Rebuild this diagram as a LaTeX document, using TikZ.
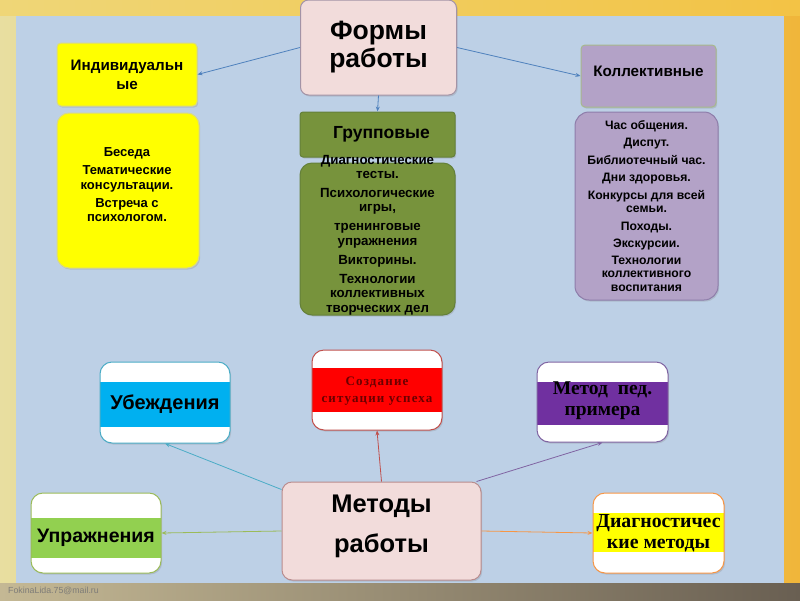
\documentclass[tikz,border=0pt]{standalone}
\usepackage{fontspec}
\setmainfont{Liberation Sans}
\newfontfamily\serifbf{Liberation Serif}
\newfontfamily\serifsp[LetterSpace=9]{Liberation Serif}
\usetikzlibrary{arrows.meta,shadows}
\definecolor{bgblue}{HTML}{BDD0E6}
\definecolor{pinkf}{HTML}{F2DCDB}
\definecolor{pinkd}{HTML}{A393A6}
\definecolor{pinkm}{HTML}{B98C8E}
\definecolor{yel}{HTML}{FFFF00}
\definecolor{yeld}{HTML}{D8D88A}
\definecolor{grn}{HTML}{77933C}
\definecolor{grnd}{HTML}{64803A}
\definecolor{purp}{HTML}{B3A2C7}
\definecolor{purpd}{HTML}{8E7DAA}
\definecolor{kold}{HTML}{A7B98C}
\definecolor{linkblue}{HTML}{4F81BD}
\definecolor{cyanband}{HTML}{00B0F0}
\definecolor{cyanbord}{HTML}{4BACC6}
\definecolor{redband}{HTML}{FF0000}
\definecolor{redbord}{HTML}{C0504D}
\definecolor{redtext}{HTML}{6B0000}
\definecolor{purpband}{HTML}{7030A0}
\definecolor{purpbord}{HTML}{8064A2}
\definecolor{grnband}{HTML}{92D050}
\definecolor{grnbord}{HTML}{9BBB59}
\definecolor{orbord}{HTML}{F79646}
\definecolor{footgray}{HTML}{7E7C78}
\definecolor{bgl}{HTML}{E8DEA0}
\definecolor{bgr}{HTML}{F0B63A}
\definecolor{bgtop}{HTML}{F6D050}
\definecolor{botl}{HTML}{C4B894}
\definecolor{botr}{HTML}{695F52}
\begin{document}
\begin{tikzpicture}[x=1pt,y=-1pt,
  box/.style={draw, line width=1pt, inner sep=0pt, align=center,
    drop shadow={shadow xshift=1.2pt, shadow yshift=-1.5pt, opacity=0.25}},
  txt/.style={inner sep=0pt, align=center},
  link/.style={line width=0.8pt, -{Stealth[length=5pt,width=4pt]}},
  band/.style n args={3}{path picture={\fill[#1, sharp corners] ([yshift=#2]path picture bounding box.west) rectangle ([yshift=#3]path picture bounding box.east);}},
]
\useasboundingbox (0,0) rectangle (800,600);
% background
\shade[left color=bgl, right color=bgr] (0,0) rectangle (800,600);
\fill[bgtop, opacity=0.5] (0,0) rectangle (800,16);
\shade[left color=botl, right color=botr] (0,583) rectangle (800,600);
\fill[bgblue] (16,16) rectangle (784,583);

% top part
\node[box, fill=pinkf, draw=pinkd, minimum width=156pt, minimum height=95pt, rounded corners=8pt,
  font=\bfseries\fontsize{26.5}{28}\selectfont] (forms) at (378.5,47.5) {Формы\\работы};
\node[box, fill=yel, draw=yeld, minimum width=140pt, minimum height=63pt, rounded corners=4pt,
  font=\bfseries\fontsize{15.2}{19}\selectfont] (ind) at (127,74.5) {Индивидуальн\\ые};
\node[box, fill=yel, draw=yeld, minimum width=142pt, minimum height=155pt, rounded corners=12pt] (indl) at (128,190.5) {};
\node[txt, font=\bfseries\fontsize{13}{14.5}\selectfont] (indt) at (127,185) {Беседа\\[3.5pt]Тематические\\консультации.\\[3.5pt]Встреча с\\психологом.};

\node[box, fill=grn, draw=grnd, minimum width=155pt, minimum height=45pt, rounded corners=3pt,
  font=\bfseries\fontsize{17.5}{20}\selectfont] (grp) at (377.5,134.5) {\hspace*{8pt}Групповые};
\node[box, fill=grn, draw=grnd, minimum width=155pt, minimum height=152pt, rounded corners=12pt] (grpl) at (377.5,239) {};
\node[txt, font=\bfseries\fontsize{13.3}{14.5}\selectfont] (grpt) at (377.5,235) {Диагностические\\тесты.\\[4pt]Психологические\\игры,\\[4.5pt]тренинговые\\упражнения\\[4.5pt]Викторины.\\[4.5pt]Технологии\\коллективных\\творческих дел};

\node[box, fill=purp, draw=kold, minimum width=135pt, minimum height=62pt, rounded corners=4pt,
  font=\bfseries\fontsize{15.2}{18}\selectfont] (kol) at (648.5,76) {\raisebox{9pt}{Коллективные}};
\node[box, fill=purp, draw=purpd, minimum width=143pt, minimum height=188pt, rounded corners=14pt] (koll) at (646.5,206) {};
\node[txt, font=\bfseries\fontsize{12.2}{13.5}\selectfont] (kolt) at (646.5,206) {Час общения.\\[4pt]Диспут.\\[4pt]Библиотечный час.\\[4pt]Дни здоровья.\\[4pt]Конкурсы для всей\\семьи.\\[4pt]Походы.\\[4pt]Экскурсии.\\[3pt]Технологии\\коллективного\\воспитания};

\draw[link, linkblue] (forms.west) -- (ind.east);
\draw[link, linkblue] (forms.south) -- (grp.north);
\draw[link, linkblue] (forms.east) -- (kol.west);

% bottom part
\node[box, fill=pinkf, draw=pinkm, minimum width=199pt, minimum height=98pt, rounded corners=10pt] (meth) at (381.5,531) {};
\node[txt, font=\bfseries\fontsize{25.5}{40}\selectfont] (metht) at (381.5,526) {Методы\\работы};

\node[box, fill=white, draw=cyanbord, minimum width=130pt, minimum height=81pt, rounded corners=12pt,
  band={cyanband}{20.5pt}{-24.5pt}] (ub) at (165,402.5) {};
\node[txt, font=\bfseries\fontsize{20}{22}\selectfont] (ubt) at (165,404.5) {Убеждения};

\node[box, fill=white, draw=redbord, minimum width=130pt, minimum height=80pt, rounded corners=12pt,
  band={redband}{22pt}{-22pt}] (sozd) at (377,390) {};
\node[txt, text=redtext, font=\serifsp\bfseries\fontsize{13}{17}\selectfont] (sozdt) at (377,391) {Создание\\ситуации успеха};

\node[box, fill=white, draw=purpbord, minimum width=131pt, minimum height=80pt, rounded corners=12pt,
  band={purpband}{20pt}{-23pt}] (met) at (602.5,402) {};
\node[txt, font=\serifbf\bfseries\fontsize{19.5}{21}\selectfont] (mett) at (602.5,401) {Метод\ \ пед.\\примера};

\node[box, fill=white, draw=grnbord, minimum width=130pt, minimum height=80pt, rounded corners=12pt,
  band={grnband}{15pt}{-25pt}] (upr) at (96,533) {};
\node[txt, font=\bfseries\fontsize{19.5}{22}\selectfont] (uprt) at (96,538) {Упражнения};

\node[box, fill=white, draw=orbord, minimum width=131pt, minimum height=80pt, rounded corners=12pt,
  band={yel}{20pt}{-19pt}] (diag) at (658.5,533) {};
\node[txt, font=\serifbf\bfseries\fontsize{19.8}{21}\selectfont] (diagt) at (658.5,533) {Диагностичес\\кие методы};

\draw[link, cyanbord] ([yshift=-8pt]meth.north west) -- (ub.south);
\draw[link, grnbord] (meth.west) -- (upr.east);
\draw[link, redbord] (meth.north) -- (sozd.south);
\draw[link, purpbord] ([xshift=-5pt]meth.north east) -- (met.south);
\draw[link, orbord] (meth.east) -- (diag.west);

\node[anchor=west, inner sep=0pt, text=footgray, font=\fontsize{8.8}{10}\selectfont] (foot) at (8,591) {FokinaLida.75@mail.ru};
\end{tikzpicture}
\end{document}
